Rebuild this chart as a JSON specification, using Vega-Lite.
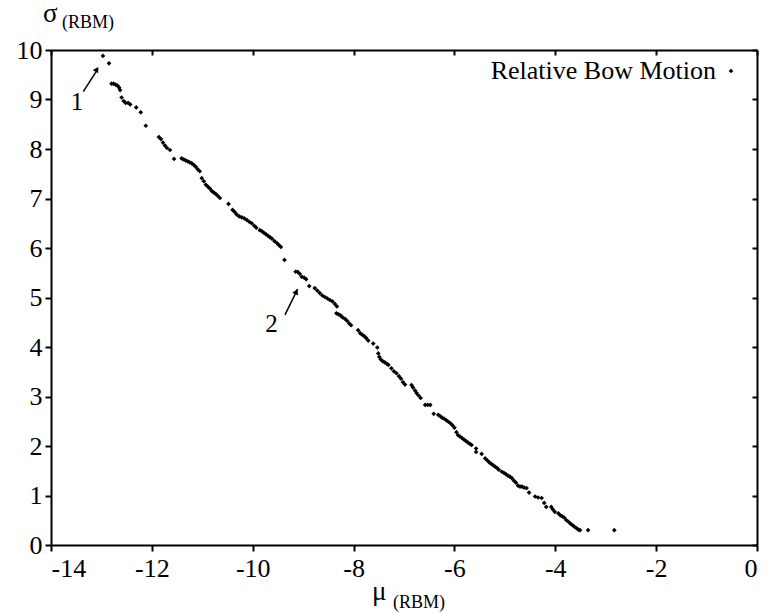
{
  "$schema": "https://vega.github.io/schema/vega-lite/v6.json",
  "width": 706,
  "height": 495,
  "autosize": {"type": "none"},
  "padding": {"left": 51, "top": 50, "right": 8, "bottom": 69},
  "background": "white",
  "config": {
    "view": {"stroke": null},
    "font": "Liberation Serif",
    "text": {"font": "Liberation Serif"},
    "axis": {
      "labelFont": "Liberation Serif",
      "labelFontSize": 26,
      "labelColor": "black",
      "domainColor": "black",
      "domainWidth": 2,
      "tickColor": "black",
      "tickWidth": 2,
      "grid": false,
      "title": null
    },
    "legend": {
      "orient": "none",
      "legendX": 667,
      "legendY": 8,
      "padding": 0,
      "labelFont": "Liberation Serif",
      "labelFontSize": 26,
      "labelColor": "black",
      "labelAlign": "right",
      "labelOffset": -28,
      "labelLimit": 0,
      "symbolType": "diamond",
      "symbolSize": 22,
      "symbolStrokeWidth": 0
    }
  },
  "datasets": {
    "points": [
      {"mu": -12.97, "sigma": 9.88},
      {"mu": -12.85, "sigma": 9.73},
      {"mu": -12.80, "sigma": 9.32},
      {"mu": -12.76, "sigma": 9.32},
      {"mu": -12.72, "sigma": 9.30},
      {"mu": -12.68, "sigma": 9.28},
      {"mu": -12.65, "sigma": 9.24},
      {"mu": -12.63, "sigma": 9.19},
      {"mu": -12.60, "sigma": 9.04},
      {"mu": -12.56, "sigma": 8.97},
      {"mu": -12.52, "sigma": 8.93},
      {"mu": -12.47, "sigma": 8.93},
      {"mu": -12.43, "sigma": 8.90},
      {"mu": -12.31, "sigma": 8.84},
      {"mu": -12.22, "sigma": 8.74},
      {"mu": -12.12, "sigma": 8.47},
      {"mu": -11.86, "sigma": 8.24},
      {"mu": -11.82, "sigma": 8.20},
      {"mu": -11.78, "sigma": 8.13},
      {"mu": -11.74, "sigma": 8.07},
      {"mu": -11.70, "sigma": 8.02},
      {"mu": -11.64, "sigma": 7.98},
      {"mu": -11.56, "sigma": 7.80},
      {"mu": -11.41, "sigma": 7.81},
      {"mu": -11.37, "sigma": 7.79},
      {"mu": -11.33, "sigma": 7.77},
      {"mu": -11.29, "sigma": 7.75},
      {"mu": -11.25, "sigma": 7.73},
      {"mu": -11.21, "sigma": 7.71},
      {"mu": -11.17, "sigma": 7.68},
      {"mu": -11.13, "sigma": 7.64},
      {"mu": -11.09, "sigma": 7.59},
      {"mu": -11.05, "sigma": 7.55},
      {"mu": -11.01, "sigma": 7.41},
      {"mu": -10.97, "sigma": 7.35},
      {"mu": -10.93, "sigma": 7.28},
      {"mu": -10.89, "sigma": 7.24},
      {"mu": -10.85, "sigma": 7.20},
      {"mu": -10.81, "sigma": 7.15},
      {"mu": -10.77, "sigma": 7.12},
      {"mu": -10.73, "sigma": 7.09},
      {"mu": -10.69, "sigma": 7.05},
      {"mu": -10.65, "sigma": 7.01},
      {"mu": -10.48, "sigma": 6.89},
      {"mu": -10.40, "sigma": 6.77},
      {"mu": -10.36, "sigma": 6.73},
      {"mu": -10.32, "sigma": 6.68},
      {"mu": -10.27, "sigma": 6.64},
      {"mu": -10.22, "sigma": 6.62},
      {"mu": -10.17, "sigma": 6.60},
      {"mu": -10.12, "sigma": 6.57},
      {"mu": -10.07, "sigma": 6.53},
      {"mu": -10.02, "sigma": 6.50},
      {"mu": -9.97, "sigma": 6.45},
      {"mu": -9.93, "sigma": 6.41},
      {"mu": -9.86, "sigma": 6.36},
      {"mu": -9.82, "sigma": 6.34},
      {"mu": -9.78, "sigma": 6.31},
      {"mu": -9.74, "sigma": 6.28},
      {"mu": -9.70, "sigma": 6.25},
      {"mu": -9.66, "sigma": 6.22},
      {"mu": -9.62, "sigma": 6.19},
      {"mu": -9.57, "sigma": 6.14},
      {"mu": -9.52, "sigma": 6.10},
      {"mu": -9.48, "sigma": 6.06},
      {"mu": -9.44, "sigma": 6.02},
      {"mu": -9.37, "sigma": 5.76},
      {"mu": -9.15, "sigma": 5.52},
      {"mu": -9.11, "sigma": 5.52},
      {"mu": -9.07, "sigma": 5.48},
      {"mu": -9.03, "sigma": 5.42},
      {"mu": -8.98, "sigma": 5.40},
      {"mu": -8.94, "sigma": 5.37},
      {"mu": -8.88, "sigma": 5.23},
      {"mu": -8.77, "sigma": 5.19},
      {"mu": -8.72, "sigma": 5.14},
      {"mu": -8.67, "sigma": 5.09},
      {"mu": -8.62, "sigma": 5.04},
      {"mu": -8.57, "sigma": 5.01},
      {"mu": -8.52, "sigma": 4.98},
      {"mu": -8.47, "sigma": 4.95},
      {"mu": -8.42, "sigma": 4.92},
      {"mu": -8.37, "sigma": 4.87},
      {"mu": -8.33, "sigma": 4.82},
      {"mu": -8.34, "sigma": 4.68},
      {"mu": -8.30, "sigma": 4.66},
      {"mu": -8.26, "sigma": 4.64},
      {"mu": -8.22, "sigma": 4.60},
      {"mu": -8.17, "sigma": 4.57},
      {"mu": -8.13, "sigma": 4.53},
      {"mu": -8.09, "sigma": 4.48},
      {"mu": -8.05, "sigma": 4.44},
      {"mu": -7.91, "sigma": 4.34},
      {"mu": -7.87, "sigma": 4.28},
      {"mu": -7.83, "sigma": 4.25},
      {"mu": -7.79, "sigma": 4.22},
      {"mu": -7.75, "sigma": 4.18},
      {"mu": -7.71, "sigma": 4.13},
      {"mu": -7.61, "sigma": 4.07},
      {"mu": -7.53, "sigma": 3.99},
      {"mu": -7.51, "sigma": 3.87},
      {"mu": -7.49, "sigma": 3.80},
      {"mu": -7.46, "sigma": 3.75},
      {"mu": -7.42, "sigma": 3.71},
      {"mu": -7.38, "sigma": 3.69},
      {"mu": -7.34, "sigma": 3.66},
      {"mu": -7.31, "sigma": 3.64},
      {"mu": -7.25, "sigma": 3.57},
      {"mu": -7.20, "sigma": 3.51},
      {"mu": -7.15, "sigma": 3.47},
      {"mu": -7.10, "sigma": 3.41},
      {"mu": -7.06, "sigma": 3.36},
      {"mu": -7.02, "sigma": 3.29},
      {"mu": -6.98, "sigma": 3.24},
      {"mu": -6.85, "sigma": 3.23},
      {"mu": -6.82, "sigma": 3.18},
      {"mu": -6.78, "sigma": 3.12},
      {"mu": -6.75, "sigma": 3.07},
      {"mu": -6.71, "sigma": 3.02},
      {"mu": -6.67, "sigma": 2.97},
      {"mu": -6.58, "sigma": 2.83},
      {"mu": -6.53, "sigma": 2.83},
      {"mu": -6.48, "sigma": 2.83},
      {"mu": -6.41, "sigma": 2.65},
      {"mu": -6.32, "sigma": 2.63},
      {"mu": -6.28, "sigma": 2.60},
      {"mu": -6.24, "sigma": 2.57},
      {"mu": -6.20, "sigma": 2.55},
      {"mu": -6.16, "sigma": 2.52},
      {"mu": -6.12, "sigma": 2.49},
      {"mu": -6.08, "sigma": 2.46},
      {"mu": -6.04, "sigma": 2.42},
      {"mu": -6.00, "sigma": 2.37},
      {"mu": -5.96, "sigma": 2.28},
      {"mu": -5.93, "sigma": 2.22},
      {"mu": -5.89, "sigma": 2.19},
      {"mu": -5.85, "sigma": 2.16},
      {"mu": -5.81, "sigma": 2.13},
      {"mu": -5.77, "sigma": 2.10},
      {"mu": -5.73, "sigma": 2.07},
      {"mu": -5.69, "sigma": 2.04},
      {"mu": -5.66, "sigma": 2.02},
      {"mu": -5.57, "sigma": 1.95},
      {"mu": -5.57, "sigma": 1.88},
      {"mu": -5.46, "sigma": 1.84},
      {"mu": -5.39, "sigma": 1.75},
      {"mu": -5.35, "sigma": 1.71},
      {"mu": -5.31, "sigma": 1.67},
      {"mu": -5.27, "sigma": 1.64},
      {"mu": -5.23, "sigma": 1.61},
      {"mu": -5.19, "sigma": 1.58},
      {"mu": -5.15, "sigma": 1.55},
      {"mu": -5.12, "sigma": 1.52},
      {"mu": -5.06, "sigma": 1.48},
      {"mu": -5.02, "sigma": 1.46},
      {"mu": -4.98, "sigma": 1.43},
      {"mu": -4.94, "sigma": 1.40},
      {"mu": -4.90, "sigma": 1.38},
      {"mu": -4.86, "sigma": 1.35},
      {"mu": -4.82, "sigma": 1.30},
      {"mu": -4.78, "sigma": 1.26},
      {"mu": -4.74, "sigma": 1.20},
      {"mu": -4.70, "sigma": 1.18},
      {"mu": -4.66, "sigma": 1.18},
      {"mu": -4.62, "sigma": 1.16},
      {"mu": -4.57, "sigma": 1.15},
      {"mu": -4.52, "sigma": 1.06},
      {"mu": -4.40, "sigma": 0.98},
      {"mu": -4.34, "sigma": 0.96},
      {"mu": -4.27, "sigma": 0.95},
      {"mu": -4.22, "sigma": 0.85},
      {"mu": -4.18, "sigma": 0.77},
      {"mu": -4.08, "sigma": 0.77},
      {"mu": -4.05, "sigma": 0.72},
      {"mu": -4.01, "sigma": 0.67},
      {"mu": -3.94, "sigma": 0.64},
      {"mu": -3.90, "sigma": 0.60},
      {"mu": -3.86, "sigma": 0.58},
      {"mu": -3.82, "sigma": 0.55},
      {"mu": -3.78, "sigma": 0.50},
      {"mu": -3.74, "sigma": 0.47},
      {"mu": -3.70, "sigma": 0.43},
      {"mu": -3.66, "sigma": 0.40},
      {"mu": -3.62, "sigma": 0.37},
      {"mu": -3.58, "sigma": 0.34},
      {"mu": -3.54, "sigma": 0.31},
      {"mu": -3.51, "sigma": 0.30},
      {"mu": -3.35, "sigma": 0.30},
      {"mu": -2.83, "sigma": 0.30}
    ],
    "one": [{}]
  },
  "layer": [
    {
      "data": {"name": "points"},
      "mark": {"type": "point", "shape": "diamond", "filled": true, "size": 22, "opacity": 1},
      "encoding": {
        "x": {"field": "mu", "type": "quantitative",
              "scale": {"domain": [-14, 0], "nice": false, "zero": false},
              "axis": {"orient": "bottom", "values": [-14, -12, -10, -8, -6, -4, -2, 0], "tickSize": 6, "labelPadding": 4, "labelExpr": "datum.value + ''"}},
        "y": {"field": "sigma", "type": "quantitative",
              "scale": {"domain": [0, 10], "nice": false, "zero": false},
              "axis": {"orient": "left", "values": [0, 1, 2, 3, 4, 5, 6, 7, 8, 9, 10], "tickSize": 6, "labelPadding": 3}},
        "color": {"datum": "Relative Bow Motion", "type": "nominal",
                  "scale": {"range": ["black"]}, "legend": {"title": null}}
      }
    },
    {
      "data": {"name": "points"},
      "mark": {"type": "point", "opacity": 0},
      "encoding": {
        "x": {"field": "mu", "type": "quantitative",
              "axis": {"orient": "top", "values": [-14, -12, -10, -8, -6, -4, -2, 0], "labels": false, "tickSize": -5}},
        "y": {"field": "sigma", "type": "quantitative",
              "axis": {"orient": "right", "values": [0, 1, 2, 3, 4, 5, 6, 7, 8, 9, 10], "labels": false, "tickSize": -5}}
      }
    },
    {
      "data": {"name": "one"},
      "mark": {"type": "text", "text": "σ", "fontSize": 27, "align": "left", "baseline": "alphabetic", "color": "black"},
      "encoding": {
        "x": {"datum": -14.16, "type": "quantitative", "axis": null},
        "y": {"datum": 10.57, "type": "quantitative", "axis": null}
      }
    },
    {
      "data": {"name": "one"},
      "mark": {"type": "text", "text": "(RBM)", "fontSize": 18, "align": "left", "baseline": "alphabetic", "color": "black"},
      "encoding": {
        "x": {"datum": -13.78, "type": "quantitative", "axis": null},
        "y": {"datum": 10.44, "type": "quantitative", "axis": null}
      }
    },
    {
      "data": {"name": "one"},
      "mark": {"type": "text", "text": "μ", "fontSize": 27, "align": "left", "baseline": "alphabetic", "color": "black"},
      "encoding": {
        "x": {"datum": -7.635, "type": "quantitative", "axis": null},
        "y": {"datum": -1.11, "type": "quantitative", "axis": null}
      }
    },
    {
      "data": {"name": "one"},
      "mark": {"type": "text", "text": "(RBM)", "fontSize": 18, "align": "left", "baseline": "alphabetic", "color": "black"},
      "encoding": {
        "x": {"datum": -7.22, "type": "quantitative", "axis": null},
        "y": {"datum": -1.27, "type": "quantitative", "axis": null}
      }
    },
    {
      "data": {"name": "one"},
      "mark": {"type": "text", "text": "1", "fontSize": 25, "align": "center", "baseline": "alphabetic", "color": "black"},
      "encoding": {
        "x": {"datum": -13.485, "type": "quantitative", "axis": null},
        "y": {"datum": 8.79, "type": "quantitative", "axis": null}
      }
    },
    {
      "data": {"name": "one"},
      "mark": {"type": "text", "text": "2", "fontSize": 25, "align": "center", "baseline": "alphabetic", "color": "black"},
      "encoding": {
        "x": {"datum": -9.628, "type": "quantitative", "axis": null},
        "y": {"datum": 4.30, "type": "quantitative", "axis": null}
      }
    },
    {
      "data": {"name": "one"},
      "mark": {"type": "rule", "color": "black", "strokeWidth": 1.5},
      "encoding": {
        "x": {"datum": -13.36, "type": "quantitative", "axis": null},
        "y": {"datum": 9.16, "type": "quantitative", "axis": null},
        "x2": {"datum": -13.07},
        "y2": {"datum": 9.62}
      }
    },
    {
      "data": {"name": "one"},
      "mark": {"type": "rule", "color": "black", "strokeWidth": 1.5},
      "encoding": {
        "x": {"datum": -9.36, "type": "quantitative", "axis": null},
        "y": {"datum": 4.65, "type": "quantitative", "axis": null},
        "x2": {"datum": -9.11},
        "y2": {"datum": 5.17}
      }
    },
    {
      "data": {"name": "one"},
      "mark": {"type": "point", "shape": "triangle-up", "filled": true, "size": 40, "angle": 32, "color": "black", "opacity": 1},
      "encoding": {
        "x": {"datum": -13.09, "type": "quantitative", "axis": null},
        "y": {"datum": 9.61, "type": "quantitative", "axis": null}
      }
    },
    {
      "data": {"name": "one"},
      "mark": {"type": "point", "shape": "triangle-up", "filled": true, "size": 40, "angle": 25, "color": "black", "opacity": 1},
      "encoding": {
        "x": {"datum": -9.135, "type": "quantitative", "axis": null},
        "y": {"datum": 5.12, "type": "quantitative", "axis": null}
      }
    }
  ],
  "resolve": {"axis": {"x": "independent", "y": "independent"}}
}
